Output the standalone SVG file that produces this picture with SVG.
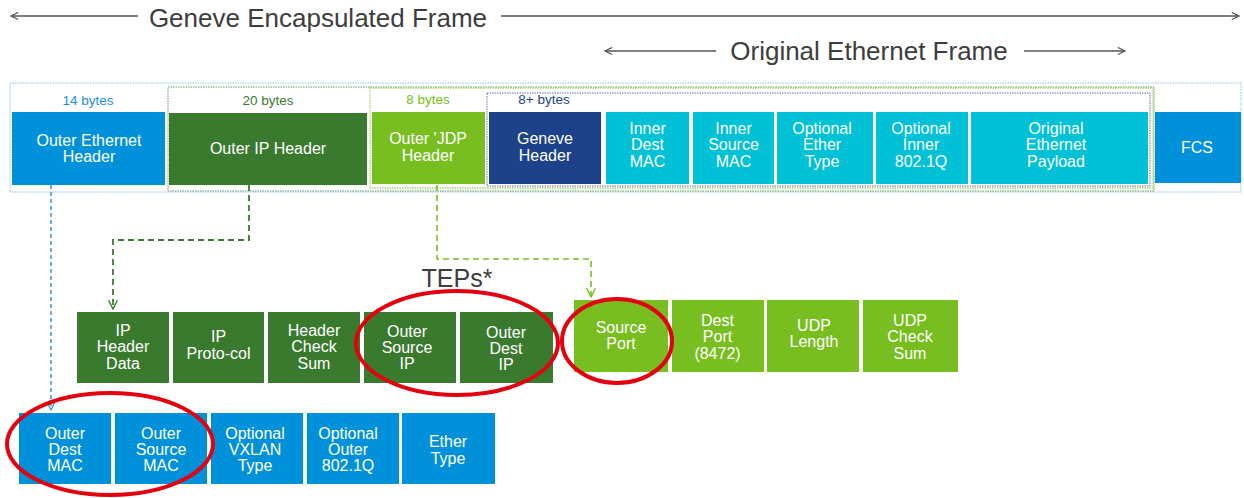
<svg xmlns="http://www.w3.org/2000/svg" width="1244" height="498" viewBox="0 0 1244 498">
<style>
text{font-family:"Liberation Sans",Arial,sans-serif;text-anchor:middle}
.w{fill:#fff;font-size:16px}
.title{fill:#3d3d3d;font-size:26px}
.bytes{font-size:13.5px}
.blue{fill:#0091da}
.dg{fill:#3a7a2e}
.lg{fill:#78be20}
.navy{fill:#1d428a}
.cyan{fill:#00c1d5}
.tarrow{stroke:#555;stroke-width:1.3;fill:none}
.red{fill:none;stroke:#e4000f;stroke-width:4}
</style>
<defs>
<marker id="ag" viewBox="0 0 10 10" refX="9" refY="5" markerWidth="9" markerHeight="9" orient="auto" markerUnits="userSpaceOnUse"><path d="M1,1 L9,5 L1,9" fill="none" stroke="#555" stroke-width="1.3"/></marker>
<marker id="ab" viewBox="0 0 10 10" refX="9" refY="5" markerWidth="9" markerHeight="9" orient="auto" markerUnits="userSpaceOnUse"><path d="M1,1 L9,5 L1,9" fill="none" stroke="#2b8fd4" stroke-width="1.3"/></marker>
<marker id="adg" viewBox="0 0 10 10" refX="9" refY="5" markerWidth="11" markerHeight="11" orient="auto" markerUnits="userSpaceOnUse"><path d="M1,1 L9,5 L1,9" fill="none" stroke="#3a7a2e" stroke-width="1.3"/></marker>
<marker id="alg" viewBox="0 0 10 10" refX="9" refY="5" markerWidth="11" markerHeight="11" orient="auto" markerUnits="userSpaceOnUse"><path d="M1,1 L9,5 L1,9" fill="none" stroke="#78be20" stroke-width="1.3"/></marker>
</defs>

<g id="titles">
<text class="title" x="318" y="27">Geneve Encapsulated Frame</text>
<line class="tarrow" x1="138" y1="16" x2="11" y2="16" marker-end="url(#ag)"/>
<line class="tarrow" x1="501" y1="16" x2="1239" y2="16" marker-end="url(#ag)"/>
<text class="title" x="869" y="60">Original Ethernet Frame</text>
<line class="tarrow" x1="716" y1="51" x2="605" y2="51" marker-end="url(#ag)"/>
<line class="tarrow" x1="1024" y1="51" x2="1125" y2="51" marker-end="url(#ag)"/>
</g>

<g id="frame-outlines">
<rect x="10" y="83" width="1231" height="109" fill="none" stroke="#8fc4e8" stroke-width="1" stroke-dasharray="1.5,1"/>
<rect x="168" y="87" width="986" height="104" fill="none" stroke="#6a9a5e" stroke-width="1" stroke-dasharray="1.5,1"/>
<rect x="370" y="88" width="783" height="100" fill="none" stroke="#a6d46a" stroke-width="1.3" stroke-dasharray="1.5,1"/>
<rect x="487" y="93" width="663" height="93" fill="none" stroke="#5a70a8" stroke-width="1" stroke-dasharray="1.5,1"/>
<text class="bytes" x="88" y="105" fill="#1e8fd6">14 bytes</text>
<text class="bytes" x="268" y="105" fill="#3a7a2e">20 bytes</text>
<text class="bytes" x="428" y="104" fill="#78be20">8 bytes</text>
<text class="bytes" x="544" y="104" fill="#1d428a">8+ bytes</text>
</g>

<g id="outer-ethernet-header"><rect class="blue" x="12" y="112" width="153" height="73"/><text class="w" x="89" y="146">Outer Ethernet</text><text class="w" x="89" y="162">Header</text></g>
<g id="outer-ip-header"><rect class="dg" x="169" y="113" width="198" height="72"/><text class="w" x="268" y="154">Outer IP Header</text></g>
<g id="outer-udp-header"><rect class="lg" x="372" y="112" width="113" height="72"/><text class="w" x="428" y="144">Outer 'JDP</text><text class="w" x="428" y="161">Header</text></g>
<g id="geneve-header"><rect class="navy" x="489" y="112" width="112" height="72"/><text class="w" x="545" y="144">Geneve</text><text class="w" x="545" y="161">Header</text></g>
<g id="inner-dest-mac"><rect class="cyan" x="606" y="112" width="83" height="72"/><text class="w" x="647.5" y="134">Inner</text><text class="w" x="647.5" y="150">Dest</text><text class="w" x="647.5" y="167">MAC</text></g>
<g id="inner-source-mac"><rect class="cyan" x="693" y="112" width="81" height="72"/><text class="w" x="733.5" y="134">Inner</text><text class="w" x="733.5" y="150">Source</text><text class="w" x="733.5" y="167">MAC</text></g>
<g id="optional-ether-type"><rect class="cyan" x="777" y="112" width="96" height="72"/><text class="w" x="822" y="134">Optional</text><text class="w" x="822" y="150">Ether</text><text class="w" x="822" y="167">Type</text></g>
<g id="optional-inner-8021q"><rect class="cyan" x="876" y="112" width="92" height="72"/><text class="w" x="921" y="134">Optional</text><text class="w" x="921" y="150">Inner</text><text class="w" x="921" y="167">802.1Q</text></g>
<g id="original-ethernet-payload"><rect class="cyan" x="971" y="112" width="177" height="72"/><text class="w" x="1056" y="134">Original</text><text class="w" x="1056" y="150">Ethernet</text><text class="w" x="1056" y="167">Payload</text></g>
<g id="fcs"><rect class="blue" x="1155" y="112" width="86" height="71"/><text class="w" x="1197" y="153">FCS</text></g>

<g id="connectors" fill="none">
<path d="M51,185 V410" stroke="#2b8fd4" stroke-width="1.4" stroke-dasharray="4,3" marker-end="url(#ab)"/>
<path d="M249,185 V240 H113 V309" stroke="#3a7a2e" stroke-width="1.8" stroke-dasharray="6,4" marker-end="url(#adg)"/>
<path d="M437,185 V259 H591 V297" stroke="#78be20" stroke-width="1.6" stroke-dasharray="6,4" marker-end="url(#alg)"/>
</g>

<g id="ip-header-data"><rect class="dg" x="77" y="312" width="92" height="71"/><text class="w" x="123" y="336">IP</text><text class="w" x="123" y="352">Header</text><text class="w" x="123" y="369">Data</text></g>
<g id="ip-protocol"><rect class="dg" x="173" y="312" width="91" height="71"/><text class="w" x="218.5" y="342">IP</text><text class="w" x="218.5" y="359">Proto-col</text></g>
<g id="header-check-sum"><rect class="dg" x="268" y="312" width="92" height="71"/><text class="w" x="314" y="336">Header</text><text class="w" x="314" y="352">Check</text><text class="w" x="314" y="369">Sum</text></g>
<g id="outer-source-ip"><rect class="dg" x="364" y="312" width="92" height="71"/><text class="w" x="407" y="337">Outer</text><text class="w" x="407" y="353">Source</text><text class="w" x="407" y="369">IP</text></g>
<g id="outer-dest-ip"><rect class="dg" x="460" y="312" width="93" height="71"/><text class="w" x="506" y="338">Outer</text><text class="w" x="506" y="354">Dest</text><text class="w" x="506" y="370">IP</text></g>

<g id="source-port"><rect class="lg" x="574" y="300" width="94" height="72"/><text class="w" x="621" y="333">Source</text><text class="w" x="621" y="349">Port</text></g>
<g id="dest-port"><rect class="lg" x="672" y="300" width="92" height="72"/><text class="w" x="717.5" y="326">Dest</text><text class="w" x="717.5" y="342">Port</text><text class="w" x="717.5" y="359">(8472)</text></g>
<g id="udp-length"><rect class="lg" x="767" y="300" width="92" height="72"/><text class="w" x="814" y="331">UDP</text><text class="w" x="814" y="347">Length</text></g>
<g id="udp-check-sum"><rect class="lg" x="863" y="300" width="95" height="72"/><text class="w" x="910" y="326">UDP</text><text class="w" x="910" y="342">Check</text><text class="w" x="910" y="359">Sum</text></g>

<g id="outer-dest-mac"><rect class="blue" x="19" y="413" width="92" height="71"/><text class="w" x="65" y="439">Outer</text><text class="w" x="65" y="455">Dest</text><text class="w" x="65" y="471">MAC</text></g>
<g id="outer-source-mac"><rect class="blue" x="115" y="413" width="92" height="71"/><text class="w" x="161" y="439">Outer</text><text class="w" x="161" y="455">Source</text><text class="w" x="161" y="471">MAC</text></g>
<g id="optional-vxlan-type"><rect class="blue" x="211" y="413" width="92" height="71"/><text class="w" x="255" y="439">Optional</text><text class="w" x="255" y="455">VXLAN</text><text class="w" x="255" y="471">Type</text></g>
<g id="optional-outer-8021q"><rect class="blue" x="307" y="413" width="92" height="71"/><text class="w" x="348" y="439">Optional</text><text class="w" x="348" y="455">Outer</text><text class="w" x="348" y="471">802.1Q</text></g>
<g id="ether-type"><rect class="blue" x="402" y="413" width="93" height="71"/><text class="w" x="448" y="447">Ether</text><text class="w" x="448" y="464">Type</text></g>

<g id="teps-highlights">
<text x="457" y="287" fill="#3d3d3d" font-size="25px">TEPs*</text>
<ellipse class="red" cx="110" cy="444" rx="103" ry="51"/>
<ellipse class="red" cx="457" cy="343" rx="101" ry="52"/>
<ellipse class="red" cx="617" cy="341" rx="55" ry="42"/>
</g>
</svg>
